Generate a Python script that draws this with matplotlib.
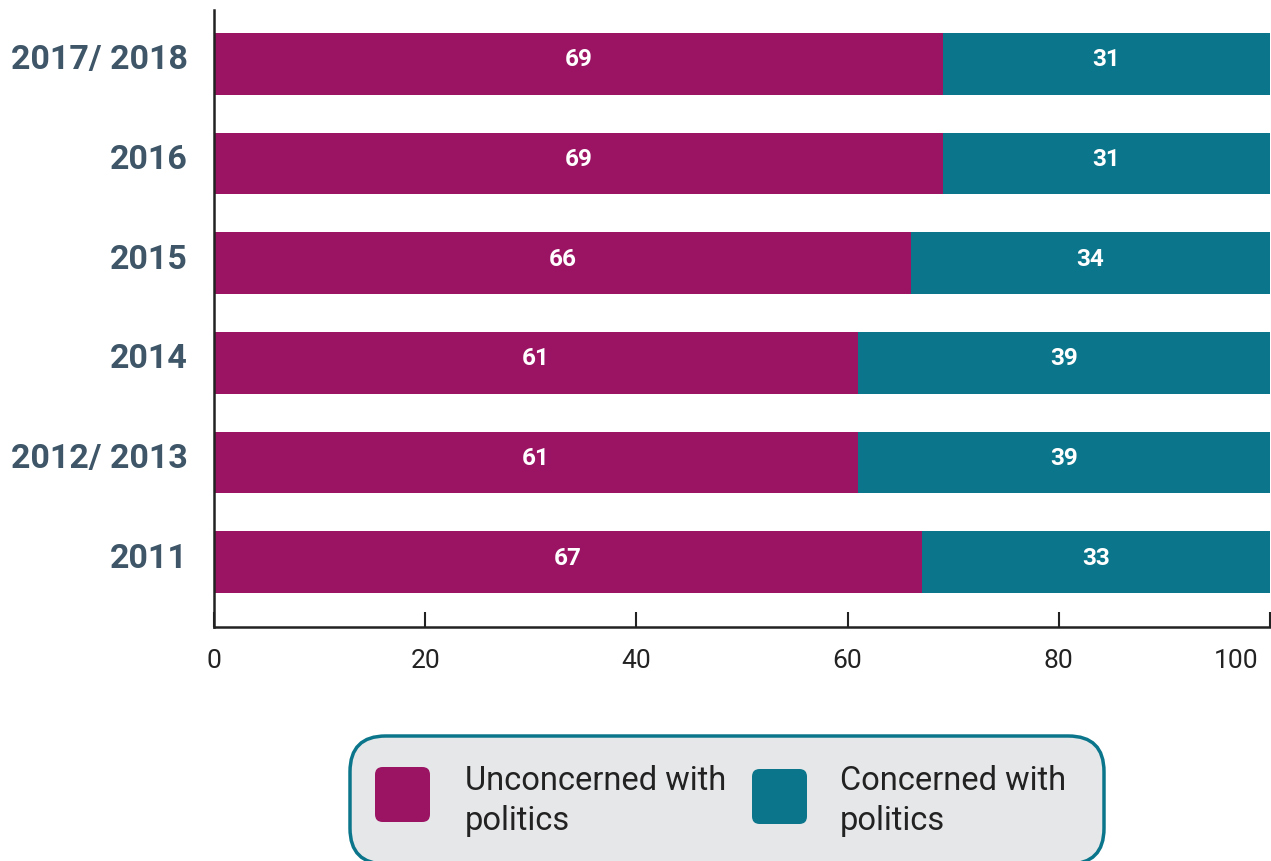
import matplotlib
matplotlib.use("Agg")
import matplotlib.pyplot as plt
import matplotlib.transforms as mtransforms
from matplotlib.patches import FancyBboxPatch
import numpy as np

plt.rcParams['font.family'] = ['Roboto', 'DejaVu Sans']

years = ['2011', '2012/ 2013', '2014', '2015', '2016', '2017/ 2018']
unconcerned = [67, 61, 61, 66, 69, 69]
concerned = [33, 39, 39, 34, 31, 31]
series_names = ['Unconcerned with\npolitics', 'Concerned with\npolitics']
xticks = [0, 20, 40, 60, 80, 100]

purple = '#9b1464'
teal = '#0b768b'
dark = '#222222'
slate = '#3e5667'

fig = plt.figure(figsize=(12.71, 8.61), dpi=100)
ax = fig.add_axes([214 / 1271, 234 / 861, 1056 / 1271, 617 / 861])

y = np.arange(len(years))
bars1 = ax.barh(y, unconcerned, height=0.62, color=purple)
bars2 = ax.barh(y, concerned, left=unconcerned, height=0.62, color=teal)

for vals, lefts in [(unconcerned, [0] * len(years)), (concerned, unconcerned)]:
    for yi, v, l in zip(y, vals, lefts):
        ax.text(l + v / 2, yi + 0.04, str(v), ha='center', va='center',
                color='white', fontsize=17.5, fontweight='bold')

ax.set_xlim(0, 100)
ax.set_ylim(-0.65, 5.54)
ax.set_xticks(xticks)
ax.set_xticklabels([str(t) for t in xticks])
ax.set_yticks(y)
ax.set_yticklabels(years)

ax.tick_params(axis='x', direction='in', length=11, width=1.5, color=dark,
               labelsize=19, labelcolor=dark, pad=16)
ax.tick_params(axis='y', length=0, labelsize=24.5, labelcolor=slate, pad=19)
for lab in ax.get_yticklabels():
    lab.set_fontweight('bold')
    lab.set_transform(lab.get_transform() + mtransforms.ScaledTranslation(0, 5 / 72, fig.dpi_scale_trans))
last = ax.get_xticklabels()[-1]
last.set_horizontalalignment('right')
last.set_transform(last.get_transform() + mtransforms.ScaledTranslation(-8 / 72, 0, fig.dpi_scale_trans))

for s in ['top', 'right']:
    ax.spines[s].set_visible(False)
for s in ['left', 'bottom']:
    ax.spines[s].set_color(dark)
    ax.spines[s].set_linewidth(1.8)

# legend box drawn by hand
W, H = 1271, 861
box = FancyBboxPatch((350 / W, (H - 864) / H), 754 / W, 128 / H,
                     boxstyle='round,pad=0,rounding_size=0.028',
                     transform=fig.transFigure, facecolor='#e6e7e9',
                     edgecolor=teal, linewidth=2.5, mutation_aspect=W / H)
fig.patches.append(box)

for (px, py), c, name, tx in [((375, 767), purple, series_names[0], 465),
                              ((752, 769), teal, series_names[1], 840)]:
    sw = FancyBboxPatch((px / W, (H - py - 55) / H), 55 / W, 55 / H,
                        boxstyle='round,pad=0,rounding_size=0.006',
                        transform=fig.transFigure, facecolor=c,
                        edgecolor='none', mutation_aspect=W / H)
    fig.patches.append(sw)
    fig.text(tx / W, (H - 801) / H, name, ha='left', va='center',
             fontsize=23.5, color=dark, linespacing=1.3)

fig.savefig('out.png', dpi=100)
